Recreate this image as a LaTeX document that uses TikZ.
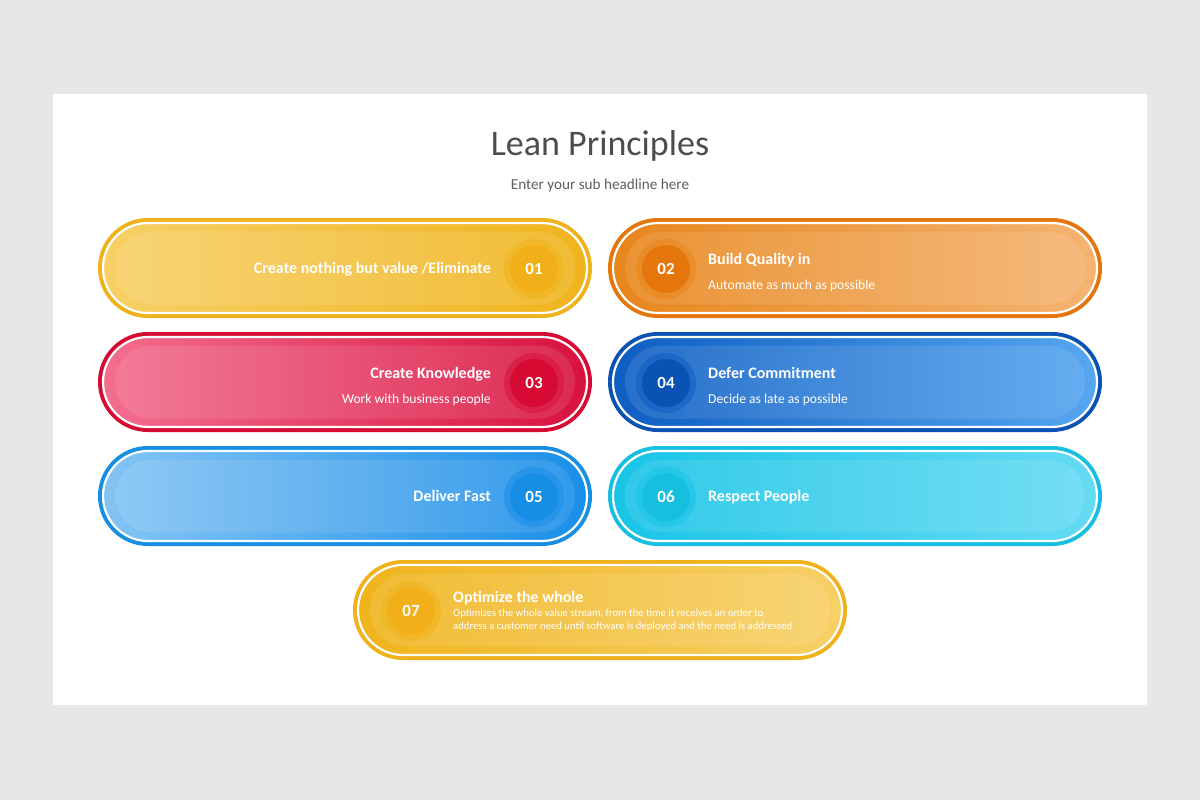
\documentclass[tikz,border=0pt]{standalone}
\usepackage{fontspec}
\setmainfont{Carlito}
\usepackage{tikz}
\usetikzlibrary{shapes.misc}

\definecolor{bggray}{HTML}{E8E6E8}
\definecolor{titlegray}{HTML}{4D4D4D}
\definecolor{yellowA}{HTML}{F0B21A}
\definecolor{yellowL}{HTML}{F7D067}
\definecolor{yellowD}{HTML}{F0B41C}
\definecolor{orangeA}{HTML}{E4760C}
\definecolor{orangeL}{HTML}{F4B470}
\definecolor{orangeD}{HTML}{E8861C}
\definecolor{redA}{HTML}{D60A32}
\definecolor{redL}{HTML}{F36E8E}
\definecolor{redD}{HTML}{D8123E}
\definecolor{navyA}{HTML}{0A52B4}
\definecolor{navyL}{HTML}{56A6F0}
\definecolor{navyD}{HTML}{0E5EC2}
\definecolor{skyA}{HTML}{168EE4}
\definecolor{skyL}{HTML}{84C4F4}
\definecolor{skyD}{HTML}{1A8EE8}
\definecolor{cyanA}{HTML}{16BEE0}
\definecolor{cyanL}{HTML}{66DBF4}
\definecolor{cyanD}{HTML}{18C4E6}

\begin{document}
\begin{tikzpicture}[x=1pt, y=-1pt,
    ring/.style={rounded rectangle, minimum width=494pt, minimum height=100pt, inner sep=0pt},
    band/.style={rounded rectangle, minimum width=484pt, minimum height=90pt, inner sep=0pt, draw=white, line width=2.2pt},
    glow/.style={rounded rectangle, minimum width=460pt, minimum height=73pt, inner sep=0pt, fill=white, fill opacity=0.10},
    halo/.style={circle, minimum size=60pt, inner sep=0pt, fill opacity=0.55},
    num/.style={circle, minimum size=48pt, inner sep=0pt, text=white, font=\fontsize{17}{19}\selectfont\bfseries},
    head/.style={text=white, inner sep=0pt, text height=11pt, text depth=3pt, font=\fontsize{16}{18}\selectfont\bfseries},
    note/.style={text=white, inner sep=0pt, text height=9.5pt, text depth=3pt, font=\fontsize{13.6}{15}\selectfont}]
			% Background and card
			\fill[bggray] (0,0) rectangle (1200,800);
			\fill[black!8] (56,97) rectangle (1149,708);
			\node[fill=white, minimum width=1094pt, minimum height=611pt, inner sep=0pt] (card) at (600,399.5) {};
			\useasboundingbox (0,0) rectangle (1200,800);
			
			% Titles
			\node[text=titlegray, font=\fontsize{36}{40}\selectfont] (title) at (600,146) {Lean Principles};
			\node[text=titlegray!90, font=\fontsize{15.2}{17}\selectfont] (subtitle) at (600,185) {Enter your sub headline here};
			
			% 01
			\node[ring, fill=yellowA] (r1) at (345,268) {};
			\node[band, left color=yellowL, right color=yellowD] (b1) at (r1) {};
			\node[glow] (g1) at (r1) {};
			\node[halo, fill=yellowD] (h1) at (534,269) {};
			\node[num, fill=yellowD!92!orange] (n1) at (h1) {01};
			\node[head, anchor=east] (t1) at (491,269.5) {Create nothing but value /Eliminate};
			
			% 02
			\node[ring, fill=orangeA] (r2) at (855,268) {};
			\node[band, left color=orangeD, right color=orangeL] (b2) at (r2) {};
			\node[glow] (g2) at (r2) {};
			\node[halo, fill=orangeD] (h2) at (666,269) {};
			\node[num, fill=orangeA] (n2) at (h2) {02};
			\node[head, anchor=west] (t2) at (708,260.5) {Build Quality in};
			\node[note, anchor=west] (s2) at (708,286.5) {Automate as much as possible};
			
			% 03
			\node[ring, fill=redA] (r3) at (345,382) {};
			\node[band, left color=redL, right color=redD] (b3) at (r3) {};
			\node[glow] (g3) at (r3) {};
			\node[halo, fill=redD] (h3) at (534,383) {};
			\node[num, fill=redA] (n3) at (h3) {03};
			\node[head, anchor=east] (t3) at (491,374.5) {Create Knowledge};
			\node[note, anchor=east] (s3) at (491,400.5) {Work with business people};
			
			% 04
			\node[ring, fill=navyA] (r4) at (855,382) {};
			\node[band, left color=navyD, right color=navyL] (b4) at (r4) {};
			\node[glow] (g4) at (r4) {};
			\node[halo, fill=navyD] (h4) at (666,383) {};
			\node[num, fill=navyA] (n4) at (h4) {04};
			\node[head, anchor=west] (t4) at (708,374.5) {Defer Commitment};
			\node[note, anchor=west] (s4) at (708,400.5) {Decide as late as possible};
			
			% 05
			\node[ring, fill=skyA] (r5) at (345,496) {};
			\node[band, left color=skyL, right color=skyD] (b5) at (r5) {};
			\node[glow] (g5) at (r5) {};
			\node[halo, fill=skyD] (h5) at (534,497) {};
			\node[num, fill=skyA] (n5) at (h5) {05};
			\node[head, anchor=east] (t5) at (491,497.5) {Deliver Fast};
			
			% 06
			\node[ring, fill=cyanA] (r6) at (855,496) {};
			\node[band, left color=cyanD, right color=cyanL] (b6) at (r6) {};
			\node[glow] (g6) at (r6) {};
			\node[halo, fill=cyanD] (h6) at (666,497) {};
			\node[num, fill=cyanA] (n6) at (h6) {06};
			\node[head, anchor=west] (t6) at (708,497.5) {Respect People};
			
			% 07
			\node[ring, fill=yellowA] (r7) at (600,610) {};
			\node[band, left color=yellowD, right color=yellowL] (b7) at (r7) {};
			\node[glow] (g7) at (r7) {};
			\node[halo, fill=yellowD] (h7) at (411,611) {};
			\node[num, fill=yellowD!92!orange] (n7) at (h7) {07};
			\node[head, anchor=west] (t7) at (453,598.5) {Optimize the whole};
			\node[note, anchor=north west, align=left, text height=, text depth=, font=\fontsize{10.7}{13}\selectfont] (s7) at (453,609)
				{Optimizes the whole value stream, from the time it receives an order to\\address a customer need until software is deployed and the need is addressed};
		\end{tikzpicture}
\end{document}
